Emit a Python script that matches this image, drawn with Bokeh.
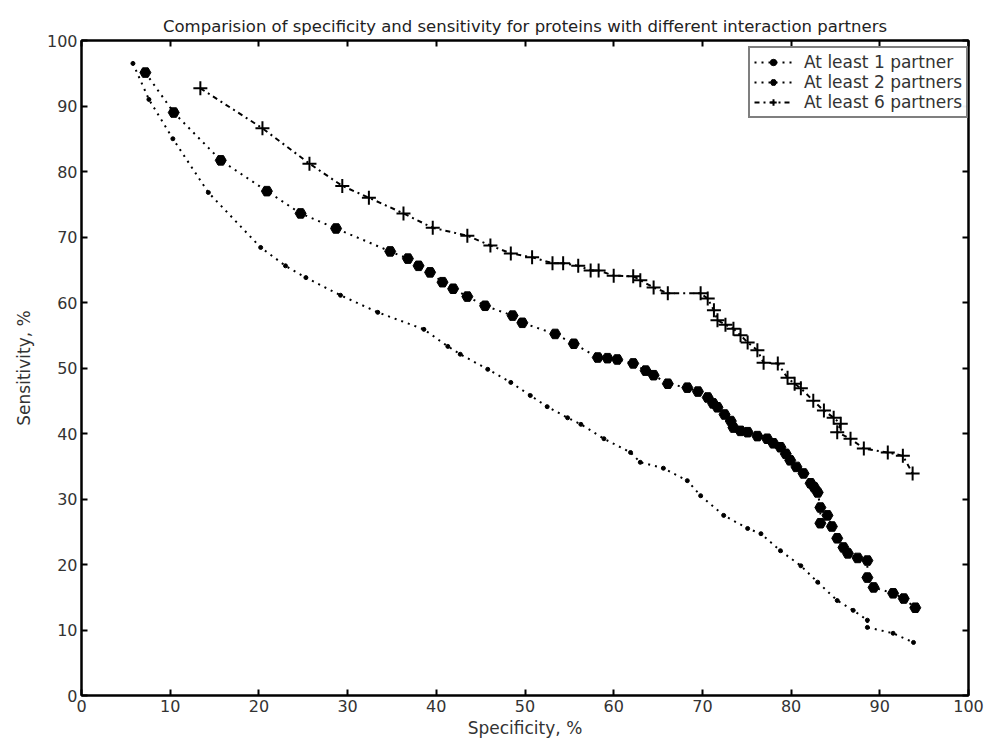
from bokeh.plotting import figure
from bokeh.models import LinearAxis, Range1d, Legend, LegendItem, FixedTicker
from bokeh.embed import file_html
from bokeh.resources import INLINE

# Data
x1 = [5.8, 7.6, 10.3, 14.3, 20.2, 23.0, 25.3, 29.2, 33.4, 38.6, 41.3, 42.7, 45.8, 48.4,
      50.6, 52.5, 54.8, 56.3, 58.9, 61.9, 63.0, 65.6, 68.3, 69.8, 72.4, 75.1, 76.6, 78.8,
      81.1, 83.0, 85.2, 87.0, 88.6, 88.6, 91.5, 93.8]
y1 = [96.5, 91.0, 85.0, 76.8, 68.4, 65.6, 63.8, 61.1, 58.5, 55.9, 53.3, 52.1, 49.8, 47.8,
      45.8, 44.1, 42.4, 41.4, 39.2, 37.1, 35.6, 34.7, 32.8, 30.5, 27.5, 25.5, 24.7, 22.1,
      19.8, 17.3, 14.5, 13.0, 11.5, 10.4, 9.5, 8.1]

x2 = [7.2, 10.4, 15.7, 20.9, 24.7, 28.7, 34.8, 36.8, 38.0, 39.3, 40.7, 41.9, 43.5, 45.5,
      48.6, 49.7, 53.4, 55.5, 58.2, 59.3, 60.4, 62.2, 63.6, 64.5, 66.1, 68.3, 69.5, 70.6,
      71.2, 71.7, 72.5, 73.2, 73.5, 74.3, 75.1, 76.2, 77.3, 78.0, 78.8, 79.4, 79.9, 80.6,
      81.4, 82.2, 82.6, 83.0, 83.3, 83.3, 84.1, 84.6, 85.2, 85.9, 86.4, 87.5, 88.6, 88.6,
      89.3, 91.5, 92.7, 94.0]
y2 = [95.1, 89.0, 81.7, 77.0, 73.6, 71.3, 67.8, 66.7, 65.6, 64.6, 63.1, 62.1, 60.9, 59.5,
      58.0, 56.9, 55.2, 53.7, 51.6, 51.5, 51.3, 50.7, 49.6, 48.9, 47.6, 47.0, 46.4, 45.5,
      44.6, 44.0, 42.9, 41.9, 40.9, 40.4, 40.2, 39.6, 39.2, 38.5, 37.9, 36.9, 35.9, 34.9,
      33.9, 32.4, 31.8, 31.0, 28.7, 26.3, 27.5, 25.8, 24.0, 22.6, 21.7, 21.0, 20.6, 18.0,
      16.5, 15.6, 14.8, 13.4]

x3 = [13.4, 20.4, 25.7, 29.4, 32.4, 36.3, 39.6, 43.5, 46.1, 48.4, 50.8, 53.1, 54.3, 56.0,
      57.4, 58.3, 60.0, 62.2, 63.0, 64.5, 66.1, 69.8, 70.6, 71.3, 71.7, 72.6, 73.5, 74.3,
      75.1, 76.2, 76.9, 78.5, 79.6, 80.4, 81.1, 82.5, 83.7, 84.8, 85.6, 85.2, 86.7, 88.2,
      90.9, 92.6, 93.7]
y3 = [92.7, 86.6, 81.2, 77.8, 76.0, 73.6, 71.4, 70.2, 68.7, 67.5, 66.9, 66.0, 66.0, 65.6,
      64.9, 64.9, 64.1, 64.0, 63.4, 62.3, 61.4, 61.4, 60.6, 58.8, 57.3, 56.6, 56.0, 55.0,
      53.9, 52.7, 50.8, 50.7, 48.5, 47.6, 46.9, 45.0, 43.5, 42.4, 41.5, 40.2, 39.2, 37.7,
      37.1, 36.6, 33.9]

labels = ["At least 1 partner", "At least 2 partners", "At least 6 partners"]
ticks = [0, 10, 20, 30, 40, 50, 60, 70, 80, 90, 100]

FONT = "DejaVu Sans"

p = figure(frame_width=887, frame_height=655, output_backend="svg", toolbar_location=None,
           x_range=Range1d(0, 100), y_range=Range1d(0, 100),
           min_border_left=81, min_border_right=21, min_border_top=40, min_border_bottom=41,
           title="Comparision of specificity and sensitivity for proteins with different interaction partners")
p.title.align = "center"
p.title.text_font = FONT
p.title.text_font_size = "16.5px"
p.title.text_font_style = "normal"
p.title.text_color = "#222222"
p.title.standoff = 10
p.grid.visible = False
p.outline_line_color = "black"
p.outline_line_width = 2
p.background_fill_color = "white"

p.xaxis.axis_label = "Specificity, %"
p.yaxis.axis_label = "Sensitivity, %"

for ax in [p.xaxis[0], p.yaxis[0]]:
    ax.ticker = FixedTicker(ticks=ticks)
    ax.minor_tick_line_color = None
    ax.major_tick_in = 6
    ax.major_tick_out = 0
    ax.major_tick_line_width = 2
    ax.axis_line_width = 2
    ax.major_label_text_font = FONT
    ax.major_label_text_font_size = "16px"
    ax.major_label_text_color = "#333333"
    ax.axis_label_text_font = FONT
    ax.axis_label_text_font_size = "17px"
    ax.axis_label_text_font_style = "normal"
    ax.axis_label_text_color = "#333333"
    ax.major_label_standoff = 4
p.xaxis[0].axis_label_standoff = 3
p.yaxis[0].axis_label_standoff = 10

for loc in ["above", "right"]:
    ax = LinearAxis(ticker=FixedTicker(ticks=ticks))
    ax.minor_tick_line_color = None
    ax.major_tick_in = 6
    ax.major_tick_out = 0
    ax.major_tick_line_width = 2
    ax.axis_line_width = 2
    ax.major_label_overrides = {t: "" for t in ticks}
    ax.major_label_text_font_size = "1px"
    ax.major_label_standoff = 0
    p.add_layout(ax, loc)

l1 = p.line(x1, y1, line_color="black", line_width=2, line_dash="2 5")
s1 = p.scatter(x1, y1, marker="circle", size=4, fill_color="black", line_color="black")
l2 = p.line(x2, y2, line_color="black", line_width=2, line_dash="2 5")
s2 = p.scatter(x2, y2, marker="hex", size=11, fill_color="black", line_color="black")
l3 = p.line(x3, y3, line_color="black", line_width=2, line_dash="5 4 2 4")
s3 = p.scatter(x3, y3, marker="cross", size=14, line_width=2, line_color="black")

legend = Legend(items=[LegendItem(label=labels[0], renderers=[l1, s1]),
                       LegendItem(label=labels[1], renderers=[l2, s2]),
                       LegendItem(label=labels[2], renderers=[l3, s3])],
                location=(667, 577))
legend.border_line_color = "black"
legend.border_line_width = 2
legend.label_text_font = FONT
legend.label_text_font_size = "17px"
legend.label_text_color = "#333333"
legend.glyph_width = 38
legend.glyph_height = 16
legend.label_height = 16
legend.spacing = 0
legend.padding = 4
legend.margin = 0
legend.label_standoff = 12
p.add_layout(legend, "center")

open("out.html", "w").write(file_html(p, INLINE))
